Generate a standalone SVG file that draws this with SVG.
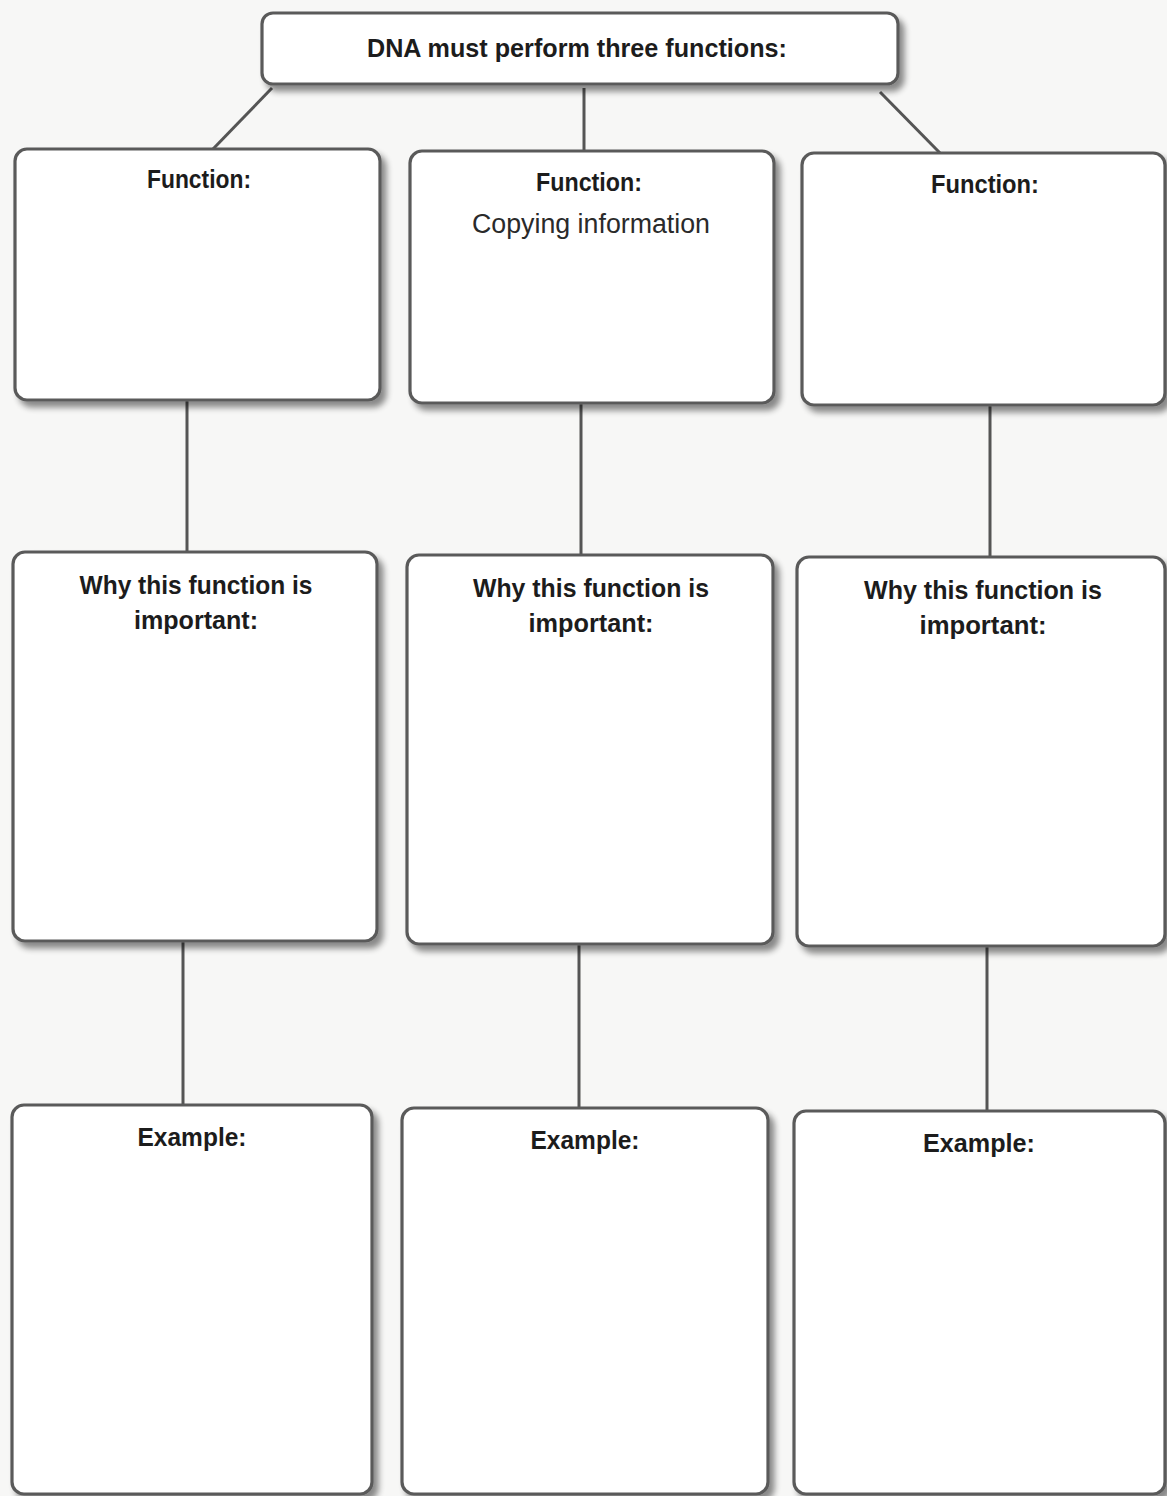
<svg xmlns="http://www.w3.org/2000/svg" width="1167" height="1496" viewBox="0 0 1167 1496">
<defs>
<filter id="sh" x="-10%" y="-10%" width="130%" height="130%">
<feGaussianBlur in="SourceAlpha" stdDeviation="3"/>
<feOffset dx="5" dy="6" result="b"/>
<feComponentTransfer><feFuncA type="linear" slope="0.45"/></feComponentTransfer>
<feMerge><feMergeNode/><feMergeNode in="SourceGraphic"/></feMerge>
</filter>
<style>
.box{fill:#ffffff;stroke:#5a5a5a;stroke-width:3.2;filter:url(#sh)}
.con{stroke:#555555;stroke-width:3;fill:none}
.h{font-family:"Liberation Sans",Arial,sans-serif;font-weight:bold;font-size:26px;fill:#1c1c1c;text-anchor:middle}
.r{font-family:"Liberation Sans",Arial,sans-serif;font-weight:normal;font-size:27px;fill:#2a2a2a;text-anchor:middle}
</style>
</defs>
<rect x="0" y="0" width="1167" height="1496" fill="#f7f7f6"/>
<g id="connectors">
<line class="con" x1="272" y1="88" x2="213" y2="149"/>
<line class="con" x1="584" y1="88" x2="584" y2="151"/>
<line class="con" x1="880" y1="92" x2="940" y2="153"/>
<line class="con" x1="187" y1="400" x2="187" y2="552"/>
<line class="con" x1="581" y1="403" x2="581" y2="555"/>
<line class="con" x1="990" y1="405" x2="990" y2="557"/>
<line class="con" x1="183" y1="941" x2="183" y2="1105"/>
<line class="con" x1="579" y1="944" x2="579" y2="1108"/>
<line class="con" x1="987" y1="946" x2="987" y2="1111"/>
</g>
<g id="top">
<rect class="box" x="262" y="13" width="636" height="71" rx="11"/>
<text class="h" x="577" y="57" textLength="420" lengthAdjust="spacingAndGlyphs">DNA must perform three functions:</text>
</g>
<g id="func1">
<rect class="box" x="15" y="149" width="365" height="251" rx="12"/>
<text class="h" x="199" y="188" textLength="104" lengthAdjust="spacingAndGlyphs">Function:</text>
</g>
<g id="func2">
<rect class="box" x="410" y="151" width="364" height="252" rx="12"/>
<text class="h" x="589" y="191" textLength="106" lengthAdjust="spacingAndGlyphs">Function:</text>
<text class="r" x="591" y="233" textLength="238" lengthAdjust="spacingAndGlyphs">Copying information</text>
</g>
<g id="func3">
<rect class="box" x="802" y="153" width="363" height="252" rx="12"/>
<text class="h" x="985" y="193" textLength="108" lengthAdjust="spacingAndGlyphs">Function:</text>
</g>
<g id="why1">
<rect class="box" x="13" y="552" width="364" height="389" rx="12"/>
<text class="h" x="196" y="594" textLength="233" lengthAdjust="spacingAndGlyphs">Why this function is</text>
<text class="h" x="196" y="629" textLength="124" lengthAdjust="spacingAndGlyphs">important:</text>
</g>
<g id="why2">
<rect class="box" x="407" y="555" width="366" height="389" rx="12"/>
<text class="h" x="591" y="597" textLength="236" lengthAdjust="spacingAndGlyphs">Why this function is</text>
<text class="h" x="591" y="632" textLength="125" lengthAdjust="spacingAndGlyphs">important:</text>
</g>
<g id="why3">
<rect class="box" x="797" y="557" width="368" height="389" rx="12"/>
<text class="h" x="983" y="599" textLength="238" lengthAdjust="spacingAndGlyphs">Why this function is</text>
<text class="h" x="983" y="634" textLength="127" lengthAdjust="spacingAndGlyphs">important:</text>
</g>
<g id="ex1">
<rect class="box" x="12" y="1105" width="360" height="389" rx="12"/>
<text class="h" x="192" y="1146" textLength="109" lengthAdjust="spacingAndGlyphs">Example:</text>
</g>
<g id="ex2">
<rect class="box" x="402" y="1108" width="366" height="386" rx="12"/>
<text class="h" x="585" y="1149" textLength="109" lengthAdjust="spacingAndGlyphs">Example:</text>
</g>
<g id="ex3">
<rect class="box" x="794" y="1111" width="371" height="383" rx="12"/>
<text class="h" x="979" y="1152" textLength="112" lengthAdjust="spacingAndGlyphs">Example:</text>
</g>
</svg>
